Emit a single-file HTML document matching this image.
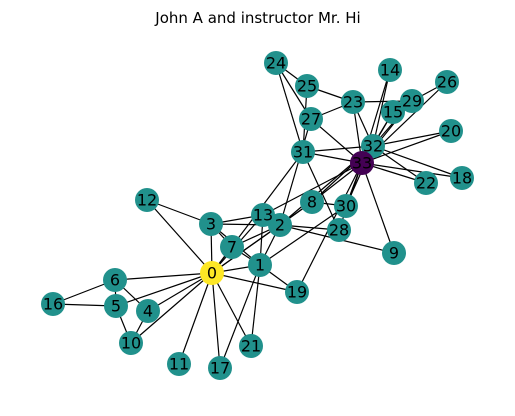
<!DOCTYPE html>
<html><head><meta charset="utf-8"><style>
body{margin:0;background:#fff;}
svg text{font-family:"DejaVu Sans","Liberation Sans",sans-serif;}
</style></head><body>
<svg id="chart" width="515" height="411" xmlns="http://www.w3.org/2000/svg">
<text x="258" y="23" font-size="15" text-anchor="middle">John A and instructor Mr. Hi</text>
<g id="edges"></g><g id="nodes"></g>
</svg>
<script>
const nodeIds=[...Array(34).keys()];
const nodeX=[212,260,280,211,148,116,115,232,312,394,131,179,147,263,390,393,53,220,462,297,451,251,426,353,276,307,447,311,339,412,346,303,373,362];
const nodeY=[273,265,225,224,311,306,280,247,202,253,343,364,200,215,70,112,304,368,178,292,131,346,183,102,63,86,82,119,230,101,206,152,146,163];
const edgeList=[[0,1],[0,2],[0,3],[0,4],[0,5],[0,6],[0,7],[0,8],[0,10],[0,11],[0,12],[0,13],[0,17],[0,19],[0,21],[0,31],
[1,2],[1,3],[1,7],[1,13],[1,17],[1,19],[1,21],[1,30],[2,3],[2,7],[2,8],[2,9],[2,13],[2,27],[2,28],[2,32],
[3,7],[3,12],[3,13],[4,6],[4,10],[5,6],[5,10],[5,16],[6,16],[8,30],[8,32],[8,33],[9,33],[13,33],[14,32],[14,33],
[15,32],[15,33],[18,32],[18,33],[19,33],[20,32],[20,33],[22,32],[22,33],[23,25],[23,27],[23,29],[23,32],[23,33],
[24,25],[24,27],[24,31],[25,31],[26,29],[26,33],[27,33],[28,31],[28,33],[29,32],[29,33],[30,32],[30,33],[31,32],[31,33],[32,33]];
const nodeColor=i=>i===0?'#fde725':(i===33?'#440154':'#21918c');
const NS='http://www.w3.org/2000/svg';
const eg=document.getElementById('edges'),ng=document.getElementById('nodes');
edgeList.forEach(([a,b])=>{
 const l=document.createElementNS(NS,'line');
 l.setAttribute('x1',nodeX[a]);l.setAttribute('y1',nodeY[a]);l.setAttribute('x2',nodeX[b]);l.setAttribute('y2',nodeY[b]);
 l.setAttribute('stroke','#000');l.setAttribute('stroke-width','1.2');
 
 
 eg.appendChild(l);
});
nodeIds.forEach(i=>{
 const c=document.createElementNS(NS,'circle');
 c.setAttribute('cx',nodeX[i]);c.setAttribute('cy',nodeY[i]);c.setAttribute('r','12');c.setAttribute('fill',nodeColor(i));
 
 
 ng.appendChild(c);
 const t=document.createElementNS(NS,'text');
 t.setAttribute('x',nodeX[i]);t.setAttribute('y',nodeY[i]+5.5);t.setAttribute('font-size','16');t.setAttribute('text-anchor','middle');
 t.textContent=i;
 
 
 ng.appendChild(t);
});
</script>
</body></html>
